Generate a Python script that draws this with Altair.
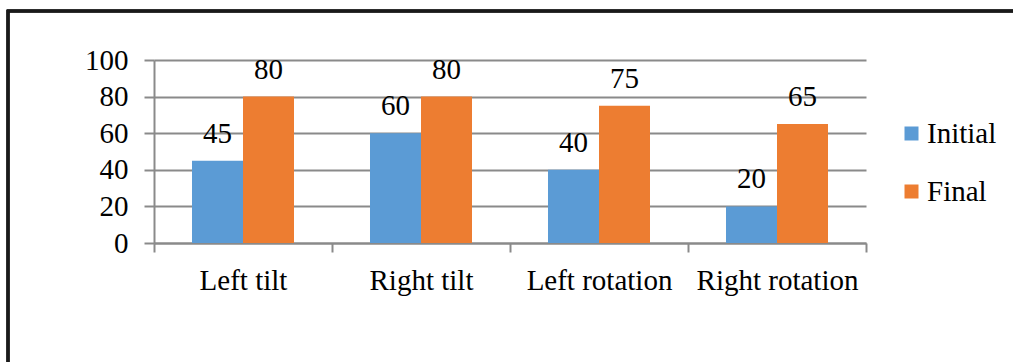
import altair as alt
import pandas as pd

# Movement categories and the two measurement series
categories = ["Left tilt", "Right tilt", "Left rotation", "Right rotation"]
initial_values = [45, 60, 40, 20]
final_values = [80, 80, 75, 65]
series_names = ["Initial", "Final"]
series_colors = ["#5B9BD5", "#ED7D31"]
y_ticks = [0, 20, 40, 60, 80, 100]

rows = []
for cat, a, b in zip(categories, initial_values, final_values):
    rows.append({"category": cat, "series": "Initial", "value": a})
    rows.append({"category": cat, "series": "Final", "value": b})
df = pd.DataFrame(rows)

FONT = "Liberation Serif"
MARK_FONT = "Times New Roman"
GRID = "#8a8a8a"

x_enc = alt.X(
    "category:N",
    sort=categories,
    scale=alt.Scale(paddingInner=0, paddingOuter=0),
    axis=alt.Axis(
        title=None,
        labelAngle=0,
        labelFont=FONT,
        labelFontSize=29,
        labelColor="black",
        labelPadding=14,
        tickBand="extent",
        tickSize=9,
        tickColor=GRID,
        tickWidth=2,
        domainColor=GRID,
        domainWidth=2,
        grid=False,
    ),
)
x_off = alt.XOffset(
    "series:N",
    sort=series_names,
    scale=alt.Scale(paddingInner=0, paddingOuter=0.745),
)
y_enc = alt.Y(
    "value:Q",
    scale=alt.Scale(domain=[0, 100]),
    axis=alt.Axis(
        title=None,
        values=y_ticks,
        labelOverlap=False,
        labelFont=FONT,
        labelFontSize=29,
        labelColor="black",
        labelPadding=16,
        tickSize=10,
        tickColor=GRID,
        tickWidth=2,
        domainColor=GRID,
        domainWidth=2,
        gridColor=GRID,
        gridWidth=2,
    ),
)
color_enc = alt.Color(
    "series:N",
    sort=series_names,
    scale=alt.Scale(domain=series_names, range=series_colors),
    legend=alt.Legend(
        title=None,
        orient="none",
        legendX=743,
        legendY=59,
        symbolType="square",
        symbolSize=196,
        symbolStrokeWidth=0,
        labelFont=MARK_FONT,
        labelFontSize=29,
        labelColor="black",
        labelOffset=1,
        rowPadding=28,
    ),
)

base = alt.Chart(df).encode(x=x_enc, xOffset=x_off, y=y_enc)

bars = base.mark_bar().encode(color=color_enc)

labels = base.mark_text(
    font=MARK_FONT, fontSize=29, color="black", baseline="alphabetic", dy=-18
).encode(text="value:Q")

# Frame around the whole figure
frame = alt.Chart(df).mark_rect(
    fill=None, stroke="#1a1a1a", strokeWidth=2.5
).encode(
    x=alt.value(-146), x2=alt.value(900), y=alt.value(-49), y2=alt.value(360)
)

chart = (
    alt.layer(bars, labels, frame)
    .properties(
        width=712,
        height=183,
        autosize=alt.AutoSizeParams(type="none"),
        padding={"left": 154, "top": 60, "right": 147, "bottom": 119},
    )
    .configure(background="white")
    .configure_view(stroke=None)
)

chart.save("out.html", embed_options={"renderer": "svg", "actions": False})
